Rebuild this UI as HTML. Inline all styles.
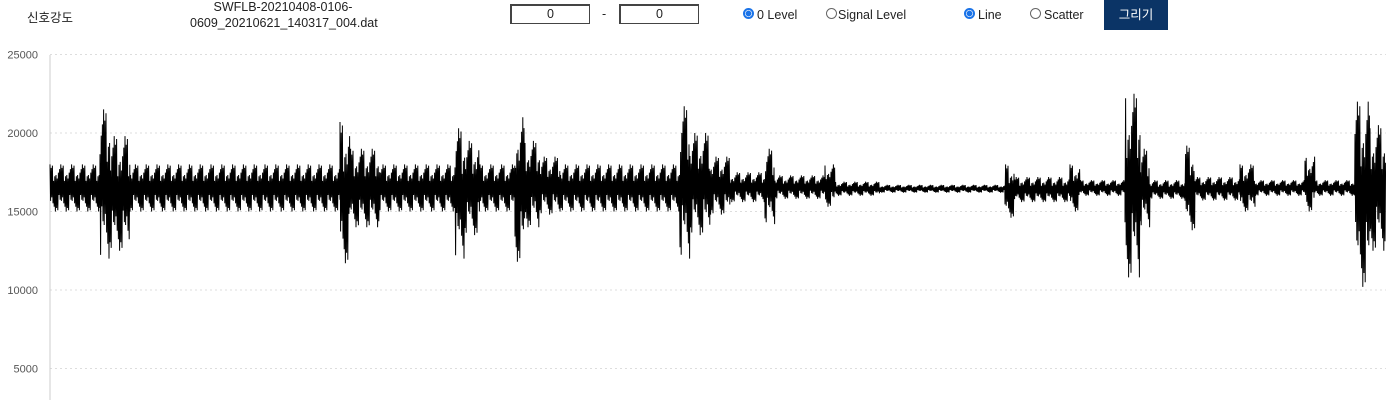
<!DOCTYPE html>
<html><head><meta charset="utf-8"><style>
body{margin:0;width:1386px;height:400px;overflow:hidden;background:#fff;font-family:"Liberation Sans","Noto Sans CJK KR",sans-serif;position:relative;color:#222}
.a{position:absolute;font-size:12.5px}
.box{position:absolute;top:4px;width:77px;height:17px;border:1px solid #444;border-top-width:2px;border-left-width:2px;text-align:center;font-size:12.5px;line-height:17px}
.rad{position:absolute;top:8px;width:11px;height:11px;border:1px solid #666;border-radius:50%;box-sizing:border-box}
.rad.on{border:2px solid #1a73e8;background:radial-gradient(#1a73e8 55%,#fff 60%)}
</style></head><body>
<div class="a" style="left:27px;top:7px">신호강도</div>
<div class="a" style="left:190px;top:-1px;width:186px;text-align:center;line-height:16px">SWFLB-20210408-0106-<br>0609_20210621_140317_004.dat</div>
<div class="box" style="left:510px">0</div>
<div class="a" style="left:602px;top:7px">-</div>
<div class="box" style="left:619px">0</div>
<div class="rad on" style="left:743px"></div>
<div class="a" style="left:757px;top:8px">0 Level</div>
<div class="rad" style="left:826px"></div>
<div class="a" style="left:838px;top:8px">Signal Level</div>
<div class="rad on" style="left:964px"></div>
<div class="a" style="left:978px;top:8px">Line</div>
<div class="rad" style="left:1030px"></div>
<div class="a" style="left:1044px;top:8px">Scatter</div>
<div style="position:absolute;left:1104px;top:0;width:64px;height:30px;background:#0b3466;color:#fff;font-size:12.5px;text-align:center;line-height:30px">그리기</div>
<svg id="chart" width="1386" height="400" style="position:absolute;left:0;top:0"></svg>
<script>
const binStart=[0,50,60,80,290,300,330,405,415,430,465,475,490,510,630,640,660,680,715,725,775,785,830,955,965,1020,1030,1075,1090,1100,1135,1145,1190,1205,1255,1265,1305,1320,1336];
const binMax=[18000,21500,19800,18000,20700,19000,18000,20300,19500,18000,21000,19500,18500,18000,21700,20000,18500,17500,19000,17300,18000,16900,16700,18000,17200,18000,17000,22500,19000,17000,19200,17200,18000,17000,18500,17000,22000,20500];
const binMin=[15000,12000,12500,15000,11700,14000,15000,12000,13500,15000,11800,14000,14800,15000,12000,13500,14800,15600,14200,15800,15300,16000,16200,14600,15600,15000,16000,10800,14000,15800,13800,15700,15000,16000,15000,16000,10200,12500];
const yTicks=[5000,10000,15000,20000,25000];
const svg=document.getElementById('chart'),NS='http://www.w3.org/2000/svg';
const X0=50,yS=v=>447-v*78.5/5000,xS=t=>X0+t;
function mk(t,a){const e=document.createElementNS(NS,t);for(const k in a)e.setAttribute(k,a[k]);svg.appendChild(e);return e;}
yTicks.forEach(v=>{
 const g=mk('line',{x1:X0,x2:1386,y1:yS(v),y2:yS(v),stroke:'#ddd','stroke-dasharray':'2,3'});
 
 
 const t=mk('text',{x:38,y:yS(v)+4,'text-anchor':'end','font-size':11,fill:'#555','font-family':'Liberation Sans,sans-serif'});
 t.textContent=v;
 
 
});
const ax=mk('line',{x1:X0,x2:X0,y1:55,y2:400,stroke:'#ccc'});


const pat=[1,0.55,0.85,0.4,0.95,0.65,0.3,0.8,0.5];
let pts=[],k=0;
for(let i=0;i<binMax.length;i++){
 const base=(binMax[i]+binMin[i])/2;
 for(let t=binStart[i];t<binStart[i+1];t+=0.6){
  const s=pat[k%pat.length];const v=(k%2?binMin[i]:binMax[i]);
  pts.push(xS(t).toFixed(1)+','+yS(base+(v-base)*s).toFixed(1));k++;
 }
}
const wave=mk('polyline',{points:pts.join(' '),fill:'none',stroke:'#000','stroke-width':1});


</script>
</body></html>
